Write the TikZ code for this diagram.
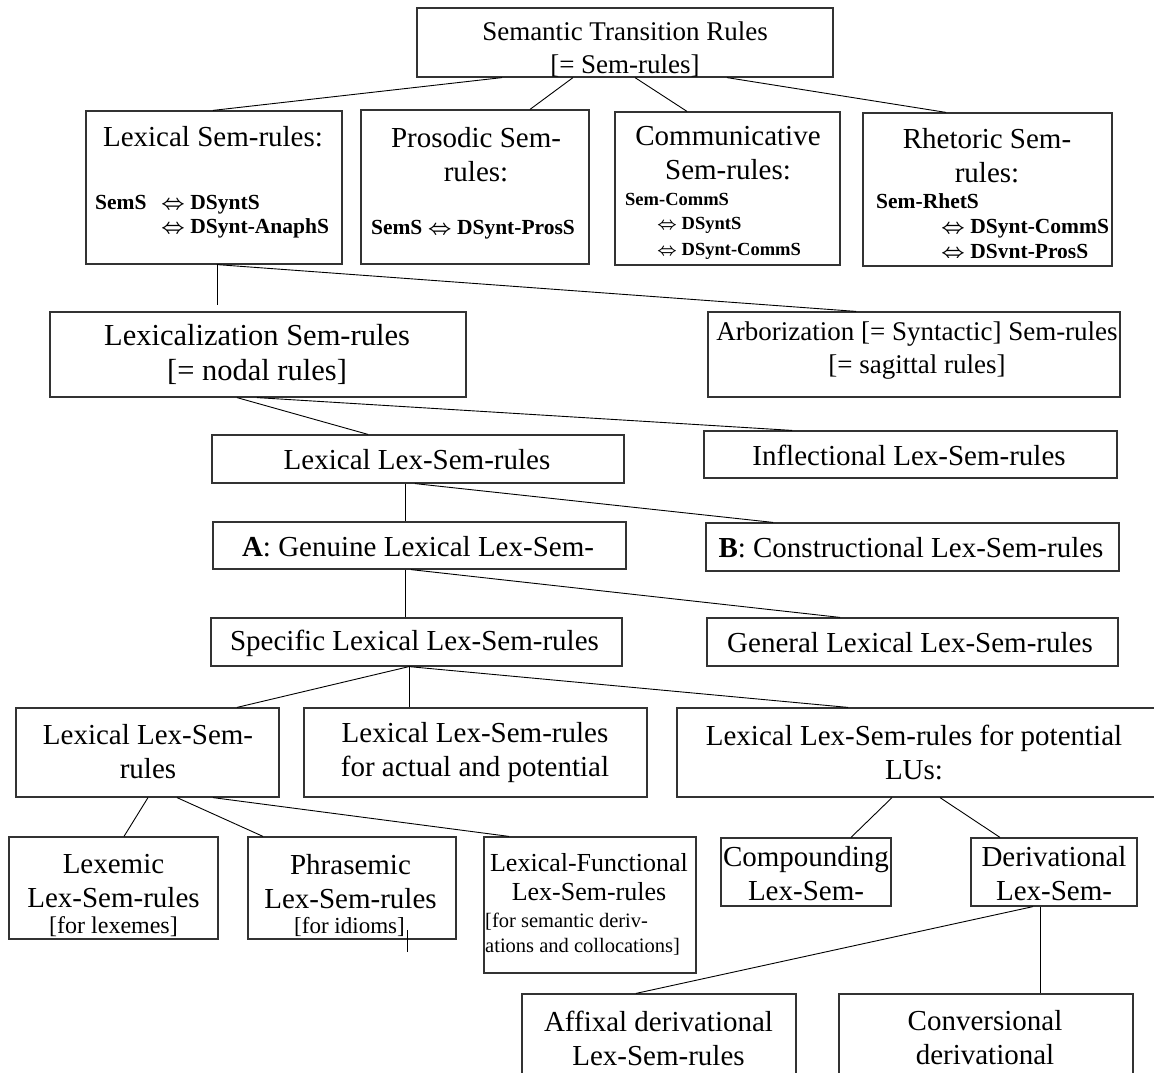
\documentclass[tikz,border=0pt]{standalone}
\usepackage{fontspec}
\setmainfont{Liberation Serif}
\usetikzlibrary{fit}

\begin{document}
\begin{tikzpicture}[x=1pt,y=-1pt,
  box/.style={draw=black!80, line width=1.2pt, inner sep=0pt},
  link/.style={draw=black, line width=0.9pt},
  lbl/.style={align=center, inner sep=0pt, font=\fontsize{29}{34}\selectfont},
  frm/.style={anchor=base west, inner sep=0pt, font=\fontsize{21.5}{25}\selectfont\bfseries\boldmath},
  frms/.style={frm, font=\fontsize{18.5}{22}\selectfont\bfseries\boldmath},
  note/.style={inner sep=0pt, font=\fontsize{24}{28}\selectfont}]

\useasboundingbox (0,0) rectangle (1154,1073);

% ---------- boxes ----------
\node[box, fit={(417,8)(833,77)}]      (top)    {};
\node[box, fit={(86,111)(342,264)}]    (lexsem) {};
\node[box, fit={(361,110)(589,264)}]   (pros)   {};
\node[box, fit={(615,112)(840,265)}]   (comm)   {};
\node[box, fit={(863,113)(1112,266)}]  (rhet)   {};
\node[box, fit={(50,312)(466,397)}]    (lexz)   {};
\node[box, fit={(708,312)(1120,397)}]  (arbo)   {};
\node[box, fit={(212,435)(624,483)}]   (lls)    {};
\node[box, fit={(704,431)(1117,478)}]  (infl)   {};
\node[box, fit={(213,522)(626,569)}]   (gen)    {};
\node[box, fit={(706,523)(1119,571)}]  (cons)   {};
\node[box, fit={(211,618)(622,666)}]   (spec)   {};
\node[box, fit={(707,618)(1118,666)}]  (genl)   {};
\node[box, fit={(16,708)(279,797)}]    (llsr)   {};
\node[box, fit={(304,708)(647,797)}]   (act)    {};
\node[box, fit={(677,708)(1160,797)}]  (pot)    {};
\node[box, fit={(9,837)(218,939)}]     (lexm)   {};
\node[box, fit={(248,837)(456,939)}]   (phr)    {};
\node[box, fit={(484,837)(696,973)}]   (lf)     {};
\node[box, fit={(721,838)(891,906)}]   (comp)   {};
\node[box, fit={(971,838)(1137,906)}]  (der)    {};
\node[box, fit={(522,994)(796,1085)}]  (aff)    {};
\node[box, fit={(839,994)(1133,1085)}] (conv)   {};

% ---------- connectors ----------
\draw[link] (502,0 |- top.south) -- (213,0 |- lexsem.north);
\draw[link] (573,0 |- top.south) -- (530,0 |- pros.north);
\draw[link] (635,0 |- top.south) -- (687,0 |- comm.north);
\draw[link] (727,0 |- top.south) -- (946,0 |- rhet.north);
\draw[link, shorten >=6pt] (217,0 |- lexsem.south) -- (217,0 |- lexz.north);
\draw[link] (217,0 |- lexsem.south) -- (856,0 |- arbo.north);
\draw[link] (237,0 |- lexz.south) -- (368,0 |- lls.north);
\draw[link] (257,0 |- lexz.south) -- (792,0 |- infl.north);
\draw[link] (405,0 |- lls.south) -- (405,0 |- gen.north);
\draw[link] (415,0 |- lls.south) -- (773,0 |- cons.north);
\draw[link] (405,0 |- gen.south) -- (405,0 |- spec.north);
\draw[link] (411,0 |- gen.south) -- (840,0 |- genl.north);
\draw[link] (409,0 |- spec.south) -- (237,0 |- llsr.north);
\draw[link] (409,0 |- spec.south) -- (409,0 |- act.north);
\draw[link] (409,0 |- spec.south) -- (848,0 |- pot.north);
\draw[link] (148,0 |- llsr.south) -- (124,0 |- lexm.north);
\draw[link] (177,0 |- llsr.south) -- (263,0 |- phr.north);
\draw[link] (213,0 |- llsr.south) -- (509,0 |- lf.north);
\draw[link] (892,0 |- pot.south) -- (851,0 |- comp.north);
\draw[link] (940,0 |- pot.south) -- (1000,0 |- der.north);
\draw[link] (1033,0 |- der.south) -- (636,0 |- aff.north);
\draw[link] (1040,0 |- der.south) -- (1040,0 |- conv.north);
\coordinate (idiom-a) at (407,930);
\coordinate (idiom-b) at (407,952);
\draw[link] (idiom-a) -- (idiom-b);

% ---------- labels ----------
\node[lbl, font=\fontsize{27}{33}\selectfont] (top-t) at (625,49.5)
  {Semantic Transition Rules\\{}[= Sem-rules]};

\node[lbl] (lexsem-t) at (213,137) {Lexical Sem-rules:};
\node[frm] (lexsem-f1) at (95,209) {SemS};
\node[frm] (lexsem-f2) at (161,209) {$\Leftrightarrow$ DSyntS};
\node[frm] (lexsem-f3) at (161,233) {$\Leftrightarrow$ DSynt-AnaphS};

\node[lbl] (pros-t) at (476,154.5) {Prosodic Sem-\\rules:};
\node[frm, anchor=base] (pros-f) at (473,234) {SemS $\Leftrightarrow$ DSynt-ProsS};

\node[lbl] (comm-t) at (728,153.5) {Communicative\\Sem-rules:};
\node[frms] (comm-f1) at (625,205) {Sem-CommS};
\node[frms] (comm-f2) at (657,229) {$\Leftrightarrow$ DSyntS};
\node[frms] (comm-f3) at (657,255) {$\Leftrightarrow$ DSynt-CommS};

\node[lbl] (rhet-t) at (987,156) {Rhetoric Sem-\\rules:};
\node[frm] (rhet-f1) at (876,208) {Sem-RhetS};
\node[frm] (rhet-f2) at (941,233) {$\Leftrightarrow$ DSynt-CommS};
\begin{scope}
  \clip (863,113) rectangle (1112,257);
  \node[frm] (rhet-f3) at (941,258) {$\Leftrightarrow$ DSynt-ProsS};
\end{scope}

\node[lbl, font=\fontsize{30.5}{35}\selectfont] (lexz-t) at (257,354.5)
  {Lexicalization Sem-rules\\{}[= nodal rules]};
\node[lbl, font=\fontsize{27}{33}\selectfont] (arbo-t) at (917,350.5)
  {Arborization [= Syntactic] Sem-rules\\{}[= sagittal rules]};

\node[lbl] (lls-t)  at (417,460)   {Lexical Lex-Sem-rules};
\node[lbl] (infl-t) at (909,455)   {Inflectional Lex-Sem-rules};
\node[lbl] (gen-t)  at (418,547)   {\textbf{A}: Genuine Lexical Lex-Sem-};
\node[lbl] (cons-t) at (911,548)   {\textbf{B}: Constructional Lex-Sem-rules};
\node[lbl] (spec-t) at (414.5,643) {Specific Lexical Lex-Sem-rules};
\node[lbl] (genl-t) at (910,643)   {General Lexical Lex-Sem-rules};

\node[lbl] (llsr-t) at (148,752)   {Lexical Lex-Sem-\\rules};
\node[lbl] (act-t)  at (475,753)   {Lexical Lex-Sem-rules\\for actual and potential};
\node[lbl] (pot-t)  at (914,752.5) {Lexical Lex-Sem-rules for potential\\LUs:};

\node[lbl]  (lexm-t) at (113.5,881.5) {Lexemic\\Lex-Sem-rules};
\node[note] (lexm-n) at (113.5,927)   {{}[for lexemes]};
\node[lbl]  (phr-t)  at (350.5,881.5) {Phrasemic\\Lex-Sem-rules};
\node[note, font=\fontsize{23}{27}\selectfont] (phr-n) at (349.5,927) {{}[for idioms]};
\node[lbl, font=\fontsize{26}{29}\selectfont] (lf-t) at (589,877.5)
  {Lexical-Functional\\Lex-Sem-rules};
\node[inner sep=0pt, anchor=west, align=left, font=\fontsize{20.5}{25}\selectfont]
  (lf-n) at (485,934.5) {{}[for semantic deriv-\\ations and collocations]};

\node[lbl] (comp-t) at (806,873.5)   {Compounding\\Lex-Sem-};
\node[lbl] (der-t)  at (1054,873.5)  {Derivational\\Lex-Sem-};
\node[lbl] (aff-t)  at (658.5,1038.5) {Affixal derivational\\Lex-Sem-rules};
\node[lbl] (conv-t) at (985,1037.5)  {Conversional\\derivational};

\end{tikzpicture}
\end{document}
